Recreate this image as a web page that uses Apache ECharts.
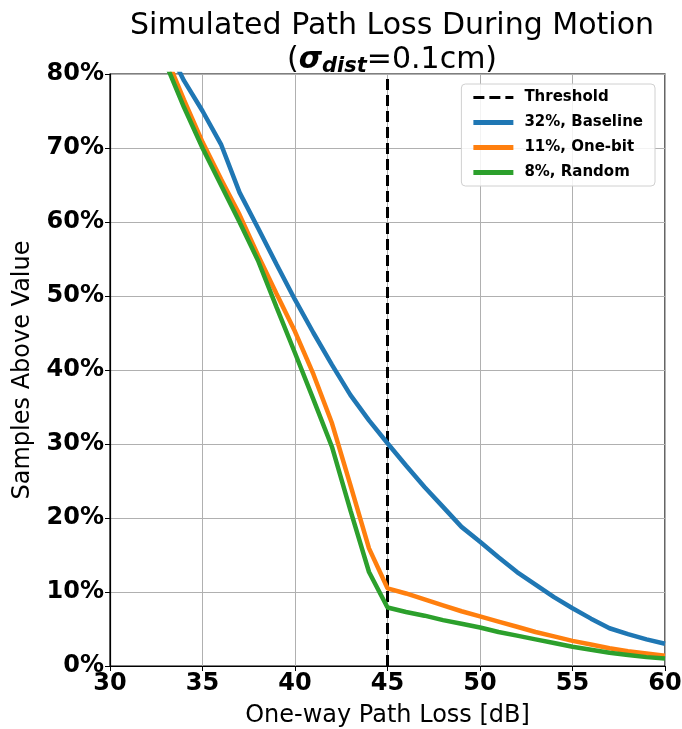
<!DOCTYPE html>
<html>
<head>
<meta charset="utf-8">
<script src="https://cdn.jsdelivr.net/npm/echarts@6/dist/echarts.min.js"></script>
<style>
html, body { margin: 0; padding: 0; background: #fff; }
#chart { width: 682px; height: 729px; }
</style>
</head>
<body>
<div id="chart"></div>
<script>
// x axis: one-way path loss in dB
var pathLoss = [33, 34, 35, 36, 37, 38, 39, 40, 41, 42, 43, 44, 45, 46, 47, 48, 49, 50,
                51, 52, 53, 54, 55, 56, 57, 58, 59, 60];
// samples above value (%)
var baseline = [84, 79.1, 75, 70.5, 64, 59.2, 54.3, 49.5, 45, 40.7, 36.6, 33.2, 30.1, 27.1, 24.2,
                21.5, 18.8, 16.8, 14.7, 12.7, 11, 9.3, 7.8, 6.4, 5.1, 4.3, 3.6, 3.0];
var oneBit = [82.5, 76.5, 70.8, 65.8, 61, 55.5, 50.3, 45.2, 39.4, 32.8, 24.4, 15.9, 10.5, 9.8, 9.0,
              8.2, 7.4, 6.7, 6.0, 5.3, 4.6, 4.0, 3.4, 2.9, 2.4, 2.0, 1.7, 1.4];
var random = [81.5, 75.5, 70, 65, 60, 54.8, 48.5, 42.3, 36, 29.6, 21, 12.7, 7.9, 7.3, 6.8,
              6.2, 5.7, 5.2, 4.6, 4.1, 3.6, 3.1, 2.6, 2.2, 1.8, 1.5, 1.2, 1.0];
var thresholdX = 45;
var legendNames = ['Threshold', '32%, Baseline', '11%, One-bit', '8%, Random'];

function pairs(ys) {
    return pathLoss.map(function(x, i) { return [x, ys[i]]; });
}

var solidIcon = 'path://M0,0h40v5h-40z';
var dashIcon = 'path://M0,0h11v3h-11z M16,0h11v3h-11z M32,0h8v3h-8z';

var chart = echarts.init(document.getElementById('chart'));
chart.setOption({
    animation: false,
    backgroundColor: '#fff',
    title: {
        left: 387, top: 4, textAlign: 'center',
        text: 'Simulated Path Loss During Motion\n({s|σ}{sub|dist}=0.1cm)',
        textStyle: {
            fontFamily: 'DejaVu Sans', fontSize: 30, fontWeight: 'normal', color: '#000',
            lineHeight: 34,
            rich: {
                s: { fontFamily: 'DejaVu Sans', fontSize: 30, fontWeight: 'bold', fontStyle: 'italic', color: '#000' },
                sub: { fontFamily: 'DejaVu Sans', fontSize: 21, fontWeight: 'bold', fontStyle: 'italic',
                       color: '#000', padding: [14, 0, 0, 0] }
            }
        }
    },
    grid: {
        left: 110, right: 17, top: 74, bottom: 63,
        outerBoundsMode: 'none',
        show: true, borderColor: '#000', borderWidth: 1.2
    },
    legend: {
        right: 27, top: 84,
        orient: 'vertical',
        data: [
            { name: legendNames[0], icon: dashIcon },
            { name: legendNames[1], icon: solidIcon },
            { name: legendNames[2], icon: solidIcon },
            { name: legendNames[3], icon: solidIcon }
        ],
        itemWidth: 40, itemHeight: 5, itemGap: 10,
        padding: [6, 12, 6, 12],
        borderColor: '#d0d0d0', borderWidth: 1, borderRadius: 4,
        backgroundColor: 'rgba(255,255,255,0.85)',
        textStyle: { fontFamily: 'DejaVu Sans', fontSize: 15, fontWeight: 'bold', color: '#000', padding: [0, 0, 0, 6] }
    },
    xAxis: {
        type: 'value', min: 30, max: 60, interval: 5,
        name: 'One-way Path Loss [dB]', nameLocation: 'middle', nameGap: 38,
        nameTextStyle: { fontFamily: 'DejaVu Sans', fontSize: 24, color: '#000' },
        axisLine: { show: true, lineStyle: { color: '#000', width: 1.2 } },
        axisTick: { show: true, length: 5, lineStyle: { color: '#000' } },
        axisLabel: { fontFamily: 'DejaVu Sans', fontSize: 24, fontWeight: 'bold', color: '#000', margin: 6 },
        splitLine: { show: true, lineStyle: { color: '#b0b0b0', width: 1 } }
    },
    yAxis: {
        type: 'value', min: 0, max: 80, interval: 10,
        name: 'Samples Above Value', nameLocation: 'middle', nameGap: 75,
        nameTextStyle: { fontFamily: 'DejaVu Sans', fontSize: 24, color: '#000' },
        axisLine: { show: true, lineStyle: { color: '#000', width: 1.2 } },
        axisTick: { show: true, length: 5, lineStyle: { color: '#000' } },
        axisLabel: { fontFamily: 'DejaVu Sans', fontSize: 24, fontWeight: 'bold', color: '#000', margin: 6,
                     formatter: '{value}%' },
        splitLine: { show: true, lineStyle: { color: '#b0b0b0', width: 1 } }
    },
    series: [
        {
            name: legendNames[0], type: 'line', showSymbol: false, clip: true,
            data: [[thresholdX, 0], [thresholdX, 80]],
            itemStyle: { color: '#000' },
            lineStyle: { color: '#000', width: 3, type: [11, 5] }
        },
        {
            name: legendNames[1], type: 'line', showSymbol: false, clip: true,
            data: pairs(baseline),
            itemStyle: { color: '#1f77b4' },
            lineStyle: { color: '#1f77b4', width: 4.5 }
        },
        {
            name: legendNames[2], type: 'line', showSymbol: false, clip: true,
            data: pairs(oneBit),
            itemStyle: { color: '#ff7f0e' },
            lineStyle: { color: '#ff7f0e', width: 4.5 }
        },
        {
            name: legendNames[3], type: 'line', showSymbol: false, clip: true,
            data: pairs(random),
            itemStyle: { color: '#2ca02c' },
            lineStyle: { color: '#2ca02c', width: 4.5 }
        }
    ]
});
</script>
</body>
</html>
